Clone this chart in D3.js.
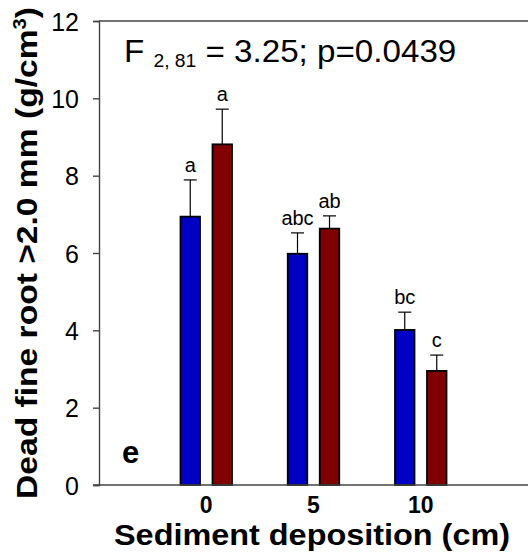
<!DOCTYPE html>
<html>
<head>
<meta charset="utf-8">
<script src="https://cdn.jsdelivr.net/npm/d3@7"></script>
<style>
  html, body { margin: 0; padding: 0; background: #fff; }
  svg text { font-family: "Liberation Sans", Arial, sans-serif; fill: #000; }
</style>
</head>
<body>
<svg id="chart" width="528" height="555"></svg>
<script>
// sediment deposition levels (cm)
var categories = [0, 5, 10];
// two series per level: blue and dark red bars
var blueMeans = [6.94, 5.98, 4.01];
var blueErrors = [0.95, 0.54, 0.46];
var redMeans = [8.81, 6.63, 2.95];
var redErrors = [0.91, 0.33, 0.41];
var blueLetters = ['a', 'abc', 'bc'];
var redLetters = ['a', 'ab', 'c'];
var yTicks = [0, 2, 4, 6, 8, 10, 12];

(function () {
    'use strict';

    var svg = d3.select('#chart');
    var left = 99, right = 528, top = 21, bottom = 485;

    var x = d3.scaleLinear().domain([-5, 15]).range([left, right]);
    var y = d3.scaleLinear().domain([0, 12]).range([bottom, top]);

    var barW = 19.5, gap = 12.5;
    var series = [
        { means: blueMeans, errs: blueErrors, letters: blueLetters, color: '#0000c4', offset: -(gap / 2 + barW / 2) },
        { means: redMeans, errs: redErrors, letters: redLetters, color: '#800000', offset: gap / 2 + barW / 2 }
    ];

    // top frame line
    svg.append('line').attr('x1', left).attr('x2', right).attr('y1', top).attr('y2', top)
        .attr('stroke', '#444').attr('stroke-width', 1.4);

    // y axis
    var yAxis = svg.append('g').attr('transform', 'translate(' + left + ',0)')
        .call(d3.axisLeft(y).tickValues(yTicks).tickSize(6).tickPadding(14).tickFormat(d3.format('d')));
    yAxis.select('.domain').attr('stroke', '#444').attr('stroke-width', 1.4);
    yAxis.selectAll('.tick line').attr('stroke', '#444').attr('stroke-width', 1.4);
    yAxis.selectAll('.tick text').attr('font-size', 25).attr('dy', '0.36em')
        .attr('font-family', '"Liberation Sans", Arial, sans-serif').attr('fill', '#000');

    // bars with error bars and letters
    series.forEach(function (s) {
        var g = svg.append('g');
        categories.forEach(function (c, i) {
            var cx = x(c) + s.offset;
            g.append('rect')
                .attr('x', cx - barW / 2).attr('y', y(s.means[i]))
                .attr('width', barW).attr('height', y(0) - y(s.means[i]))
                .attr('fill', s.color).attr('stroke', '#000').attr('stroke-width', 1.8);
            var yt = y(s.means[i] + s.errs[i]);
            g.append('line').attr('x1', cx).attr('x2', cx)
                .attr('y1', y(s.means[i])).attr('y2', yt)
                .attr('stroke', '#000').attr('stroke-width', 1.2);
            g.append('line').attr('x1', cx - 6.5).attr('x2', cx + 6.5)
                .attr('y1', yt).attr('y2', yt)
                .attr('stroke', '#000').attr('stroke-width', 1.2);
            g.append('text').attr('x', cx).attr('y', yt - 8)
                .attr('text-anchor', 'middle').attr('font-size', 20)
                .text(s.letters[i]);
        });
    });

    // x axis line
    svg.append('line').attr('x1', left - 6).attr('x2', right).attr('y1', bottom).attr('y2', bottom)
        .attr('stroke', '#444').attr('stroke-width', 1.4);

    // x tick labels
    svg.append('g').selectAll('text').data(categories).join('text')
        .attr('x', function (d) { return x(d); })
        .attr('y', 513)
        .attr('text-anchor', 'middle').attr('font-size', 23).attr('font-weight', 'bold')
        .text(function (d) { return d; });

    // axis titles
    svg.append('text').attr('transform', 'translate(312,545) scale(1.08,1)')
        .attr('text-anchor', 'middle').attr('font-size', 30).attr('font-weight', 'bold')
        .text('Sediment deposition (cm)');

    var yt = svg.append('text')
        .attr('transform', 'translate(37,253) rotate(-90) scale(1.12,1)')
        .attr('text-anchor', 'middle').attr('font-size', 30).attr('font-weight', 'bold');
    yt.append('tspan').text('Dead fine root >2.0 mm (g/cm');
    yt.append('tspan').attr('font-size', 18).attr('dy', -11).text('3');
    yt.append('tspan').attr('dy', 11).text(')');

    // stats annotation
    var st = svg.append('text').attr('transform', 'translate(124,62) scale(1.07,1)').attr('font-size', 31);
    st.append('tspan').text('F ');
    st.append('tspan').attr('font-size', 18).attr('dy', 5).text('2, 81');
    st.append('tspan').attr('dy', -5).text(' = 3.25; p=0.0439');

    // panel letter
    svg.append('text').attr('x', 122).attr('y', 463)
        .attr('font-size', 31).attr('font-weight', 'bold').text('e');
})();
</script>
</body>
</html>
